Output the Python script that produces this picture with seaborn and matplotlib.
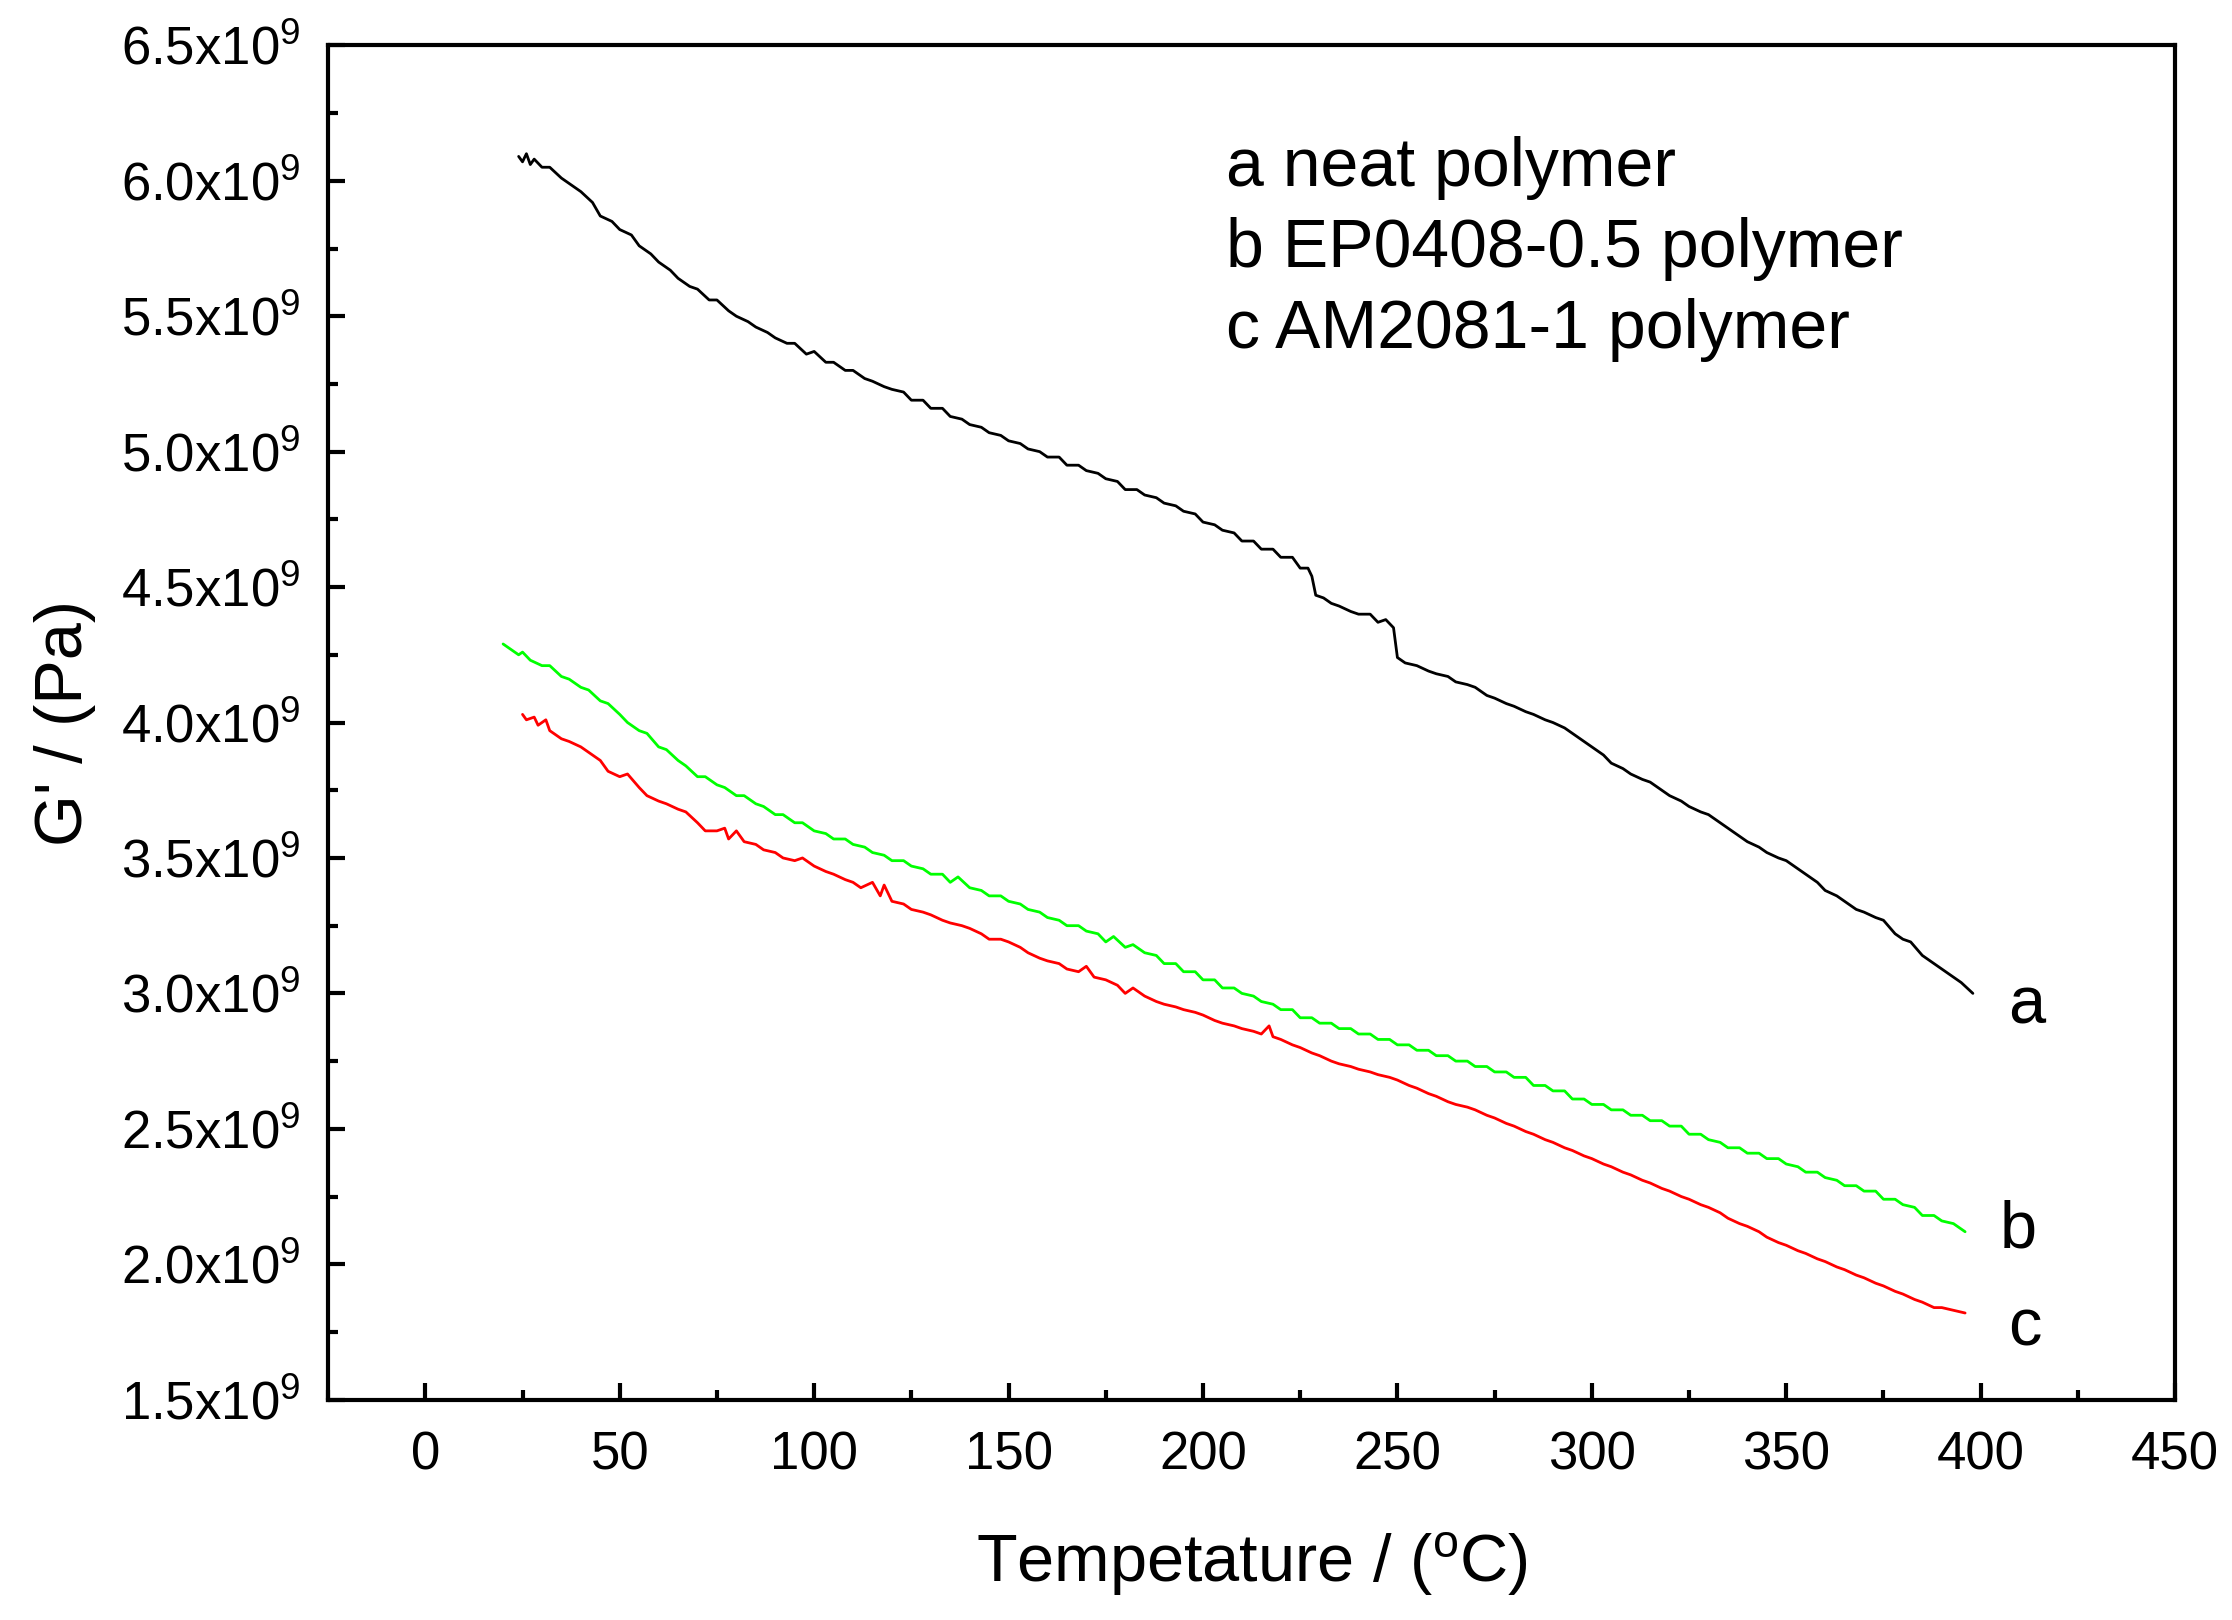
import numpy as np
import pandas as pd
import seaborn as sns
import matplotlib.pyplot as plt
from matplotlib.ticker import MultipleLocator, FuncFormatter

# curve a: neat polymer (G' in units of 1e9 Pa)
a_temp = [24, 25, 26, 27, 28, 30, 32, 35, 38, 40, 43, 45, 48, 50, 53, 55, 58, 60, 63, 65,
          68, 70, 73, 75, 78, 80, 83, 85, 88, 90, 93, 95, 98, 100, 103, 105, 108, 110, 113, 115,
          118, 120, 123, 125, 128, 130, 133, 135, 138, 140, 143, 145, 148, 150, 153, 155, 158, 160,
          163, 165, 168, 170, 173, 175, 178, 180, 183, 185, 188, 190, 193, 195, 198, 200, 203, 205,
          208, 210, 213, 215, 218, 220, 223, 225, 227, 228, 229, 231, 233, 235, 238, 240, 243, 245,
          247, 249, 250, 252, 255, 258, 260, 263, 265, 268, 270, 273, 275, 278, 280, 283, 285, 288,
          290, 293, 295, 298, 300, 303, 305, 308, 310, 313, 315, 318, 320, 323, 325, 328, 330, 333,
          335, 338, 340, 343, 345, 348, 350, 353, 355, 358, 360, 363, 365, 368, 370, 373, 375, 378,
          380, 382, 385, 388, 390, 393, 395, 398]
a_g = [6.09, 6.07, 6.10, 6.06, 6.08, 6.05, 6.05, 6.01, 5.98, 5.96, 5.92, 5.87, 5.85, 5.82, 5.80, 5.76,
       5.73, 5.70, 5.67, 5.64, 5.61, 5.60, 5.56, 5.56, 5.52, 5.50, 5.48, 5.46, 5.44, 5.42, 5.40, 5.40,
       5.36, 5.37, 5.33, 5.33, 5.30, 5.30, 5.27, 5.26, 5.24, 5.23, 5.22, 5.19, 5.19, 5.16, 5.16, 5.13,
       5.12, 5.10, 5.09, 5.07, 5.06, 5.04, 5.03, 5.01, 5.00, 4.98, 4.98, 4.95, 4.95, 4.93, 4.92, 4.90,
       4.89, 4.86, 4.86, 4.84, 4.83, 4.81, 4.80, 4.78, 4.77, 4.74, 4.73, 4.71, 4.70, 4.67, 4.67, 4.64,
       4.64, 4.61, 4.61, 4.57, 4.57, 4.54, 4.47, 4.46, 4.44, 4.43, 4.41, 4.40, 4.40, 4.37, 4.38, 4.35,
       4.24, 4.22, 4.21, 4.19, 4.18, 4.17, 4.15, 4.14, 4.13, 4.10, 4.09, 4.07, 4.06, 4.04, 4.03, 4.01,
       4.00, 3.98, 3.96, 3.93, 3.91, 3.88, 3.85, 3.83, 3.81, 3.79, 3.78, 3.75, 3.73, 3.71, 3.69, 3.67,
       3.66, 3.63, 3.61, 3.58, 3.56, 3.54, 3.52, 3.50, 3.49, 3.46, 3.44, 3.41, 3.38, 3.36, 3.34, 3.31,
       3.30, 3.28, 3.27, 3.22, 3.20, 3.19, 3.14, 3.11, 3.09, 3.06, 3.04, 3.00]

# curve b: EP0408-0.5 polymer
b_temp = [20, 22, 24, 25, 27, 30, 32, 35, 37, 40, 42, 45, 47, 50, 52, 55, 57, 60, 62, 65, 67, 70,
          72, 75, 77, 80, 82, 85, 87, 90, 92, 95, 97, 100, 103, 105, 108, 110, 113, 115, 118, 120,
          123, 125, 128, 130, 133, 135, 137, 140, 143, 145, 148, 150, 153, 155, 158, 160, 163, 165,
          168, 170, 173, 175, 177, 180, 182, 185, 188, 190, 193, 195, 198, 200, 203, 205, 208, 210,
          213, 215, 218, 220, 223, 225, 228, 230, 233, 235, 238, 240, 243, 245, 248, 250, 253, 255,
          258, 260, 263, 265, 268, 270, 273, 275, 278, 280, 283, 285, 288, 290, 293, 295, 298, 300,
          303, 305, 308, 310, 313, 315, 318, 320, 323, 325, 328, 330, 333, 335, 338, 340, 343, 345,
          348, 350, 353, 355, 358, 360, 363, 365, 368, 370, 373, 375, 378, 380, 383, 385, 388, 390,
          393, 396]
b_g = [4.29, 4.27, 4.25, 4.26, 4.23, 4.21, 4.21, 4.17, 4.16, 4.13, 4.12, 4.08, 4.07, 4.03, 4.00, 3.97,
       3.96, 3.91, 3.90, 3.86, 3.84, 3.80, 3.80, 3.77, 3.76, 3.73, 3.73, 3.70, 3.69, 3.66, 3.66, 3.63,
       3.63, 3.60, 3.59, 3.57, 3.57, 3.55, 3.54, 3.52, 3.51, 3.49, 3.49, 3.47, 3.46, 3.44, 3.44, 3.41,
       3.43, 3.39, 3.38, 3.36, 3.36, 3.34, 3.33, 3.31, 3.30, 3.28, 3.27, 3.25, 3.25, 3.23, 3.22, 3.19,
       3.21, 3.17, 3.18, 3.15, 3.14, 3.11, 3.11, 3.08, 3.08, 3.05, 3.05, 3.02, 3.02, 3.00, 2.99, 2.97,
       2.96, 2.94, 2.94, 2.91, 2.91, 2.89, 2.89, 2.87, 2.87, 2.85, 2.85, 2.83, 2.83, 2.81, 2.81, 2.79,
       2.79, 2.77, 2.77, 2.75, 2.75, 2.73, 2.73, 2.71, 2.71, 2.69, 2.69, 2.66, 2.66, 2.64, 2.64, 2.61,
       2.61, 2.59, 2.59, 2.57, 2.57, 2.55, 2.55, 2.53, 2.53, 2.51, 2.51, 2.48, 2.48, 2.46, 2.45, 2.43,
       2.43, 2.41, 2.41, 2.39, 2.39, 2.37, 2.36, 2.34, 2.34, 2.32, 2.31, 2.29, 2.29, 2.27, 2.27, 2.24,
       2.24, 2.22, 2.21, 2.18, 2.18, 2.16, 2.15, 2.12]

# curve c: AM2081-1 polymer
c_temp = [25, 26, 28, 29, 31, 32, 35, 37, 40, 42, 45, 47, 50, 52, 55, 57, 60, 62, 65, 67, 70, 72,
          75, 77, 78, 80, 82, 85, 87, 90, 92, 95, 97, 100, 103, 105, 108, 110, 112, 115, 117, 118,
          120, 123, 125, 128, 130, 133, 135, 138, 140, 143, 145, 148, 150, 153, 155, 158, 160, 163,
          165, 168, 170, 172, 175, 178, 180, 182, 185, 188, 190, 193, 195, 198, 200, 203, 205, 208,
          210, 213, 215, 217, 218, 220, 223, 225, 228, 230, 233, 235, 238, 240, 243, 245, 248, 250,
          253, 255, 258, 260, 263, 265, 268, 270, 273, 275, 278, 280, 283, 285, 288, 290, 293, 295,
          298, 300, 303, 305, 308, 310, 313, 315, 318, 320, 323, 325, 328, 330, 333, 335, 338, 340,
          343, 345, 348, 350, 353, 355, 358, 360, 363, 365, 368, 370, 373, 375, 378, 380, 383, 385,
          388, 390, 393, 396]
c_g = [4.03, 4.01, 4.02, 3.99, 4.01, 3.97, 3.94, 3.93, 3.91, 3.89, 3.86, 3.82, 3.80, 3.81, 3.76, 3.73,
       3.71, 3.70, 3.68, 3.67, 3.63, 3.60, 3.60, 3.61, 3.57, 3.60, 3.56, 3.55, 3.53, 3.52, 3.50, 3.49,
       3.50, 3.47, 3.45, 3.44, 3.42, 3.41, 3.39, 3.41, 3.36, 3.40, 3.34, 3.33, 3.31, 3.30, 3.29, 3.27,
       3.26, 3.25, 3.24, 3.22, 3.20, 3.20, 3.19, 3.17, 3.15, 3.13, 3.12, 3.11, 3.09, 3.08, 3.10, 3.06,
       3.05, 3.03, 3.00, 3.02, 2.99, 2.97, 2.96, 2.95, 2.94, 2.93, 2.92, 2.90, 2.89, 2.88, 2.87, 2.86,
       2.85, 2.88, 2.84, 2.83, 2.81, 2.80, 2.78, 2.77, 2.75, 2.74, 2.73, 2.72, 2.71, 2.70, 2.69, 2.68,
       2.66, 2.65, 2.63, 2.62, 2.60, 2.59, 2.58, 2.57, 2.55, 2.54, 2.52, 2.51, 2.49, 2.48, 2.46, 2.45,
       2.43, 2.42, 2.40, 2.39, 2.37, 2.36, 2.34, 2.33, 2.31, 2.30, 2.28, 2.27, 2.25, 2.24, 2.22, 2.21,
       2.19, 2.17, 2.15, 2.14, 2.12, 2.10, 2.08, 2.07, 2.05, 2.04, 2.02, 2.01, 1.99, 1.98, 1.96, 1.95,
       1.93, 1.92, 1.90, 1.89, 1.87, 1.86, 1.84, 1.84, 1.83, 1.82]

series_names = ['a', 'b', 'c']
series_colors = ['#000000', '#00ff00', '#ff0000']
legend_lines = ['a neat polymer', 'b EP0408-0.5 polymer', 'c AM2081-1 polymer']

sns.set_theme(style='ticks')
plt.rcParams['font.family'] = ['Liberation Sans', 'DejaVu Sans']
plt.rcParams['mathtext.fontset'] = 'custom'
plt.rcParams['mathtext.rm'] = 'Liberation Sans'
plt.rcParams['mathtext.it'] = 'Liberation Sans'
# pure black text like the original plot
for key in ['text.color', 'axes.labelcolor', 'xtick.color', 'ytick.color', 'axes.edgecolor']:
    plt.rcParams[key] = 'black'

fig = plt.figure(figsize=(22.32, 16.2), dpi=100)
ax = fig.add_axes([0.147, 0.136, 0.8275, 0.836])

for name, temp, g, col in zip(series_names, [a_temp, b_temp, c_temp], [a_g, b_g, c_g], series_colors):
    df = pd.DataFrame({'T': temp, 'G': np.array(g) * 1e9})
    sns.lineplot(data=df, x='T', y='G', ax=ax, color=col, linewidth=2.0,
                 sort=False, estimator=None)

ax.set_xlim(-25, 450)
ax.set_ylim(1.5e9, 6.5e9)
ax.xaxis.set_major_locator(MultipleLocator(50))
ax.xaxis.set_minor_locator(MultipleLocator(25))
ax.yaxis.set_major_locator(MultipleLocator(0.5e9))
ax.yaxis.set_minor_locator(MultipleLocator(0.25e9))
ax.yaxis.set_major_formatter(FuncFormatter(
    lambda v, _: r'$\mathregular{%.1fx10^{9}}$' % (v / 1e9)))

ax.tick_params(which='both', direction='in', top=False, right=False, width=3, color='black')
ax.tick_params(which='major', length=12, labelsize=38)
ax.tick_params(which='minor', length=7)
ax.tick_params(axis='y', which='major', pad=20)
ax.tick_params(axis='x', which='major', pad=22)
for sp in ax.spines.values():
    sp.set_linewidth(3)
    sp.set_color('black')

ax.set_xlabel(r'Tempetature / ($\mathregular{^{o}}$C)', fontsize=48, labelpad=36)
ax.set_ylabel("G' / (Pa)", fontsize=48, labelpad=18)

# in-plot legend text
for i, txt in enumerate(legend_lines):
    ax.text(0.486, 0.896 - i * 0.0597, txt, transform=ax.transAxes,
            fontsize=49, va='baseline', ha='left')

# curve end labels
ax.text(407, 2.89e9, 'a', fontsize=48, va='baseline')
ax.text(405, 2.06e9, 'b', fontsize=48, va='baseline')
ax.text(407, 1.70e9, 'c', fontsize=48, va='baseline')

fig.savefig('out.png', dpi=100)
